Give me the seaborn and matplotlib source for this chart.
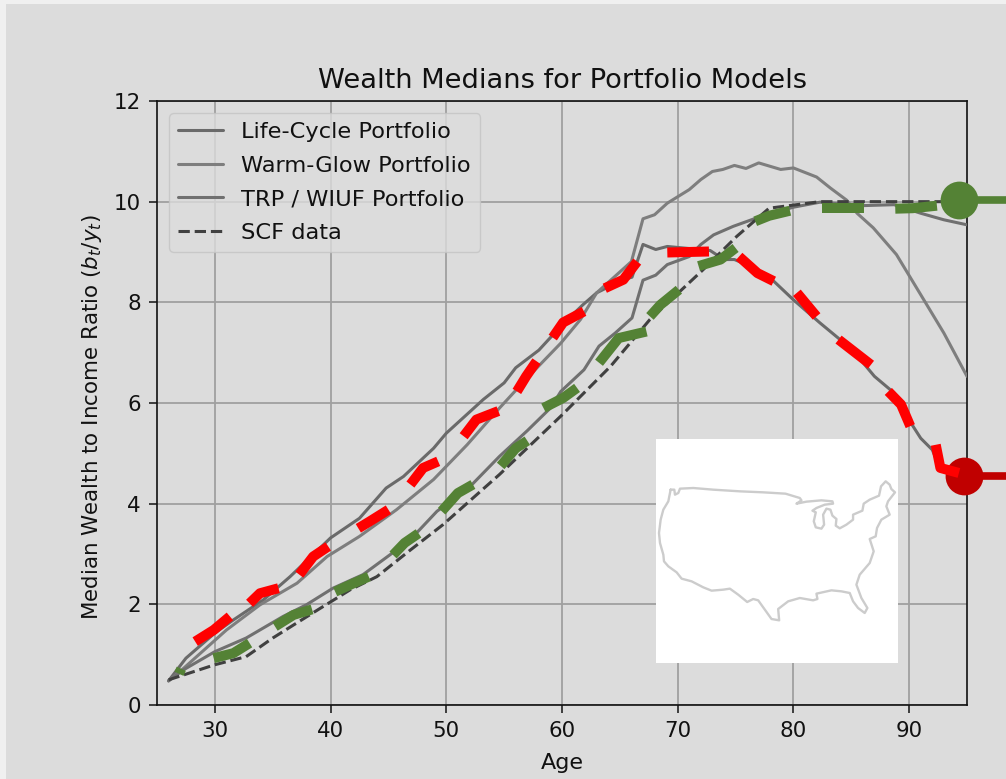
import matplotlib
matplotlib.use("Agg")
import matplotlib.pyplot as plt
import seaborn as sns

# solid / dashed curves
lc_age = [26, 27.5, 30, 31.6, 34.2, 36.5, 40, 42.5, 44.8, 46.3, 48.9, 50, 53.2, 55, 56, 58, 60, 61.8, 63, 65.3, 66.05, 67, 68.1, 69.1, 72.8, 74, 74.9, 76.5, 78.3, 80, 82.3, 84.4, 85.8, 87, 88.7, 89.8, 91, 92, 92.6, 93.4, 95]
lc_val = [0.48, 0.93, 1.43, 1.69, 2.09, 2.55, 3.32, 3.71, 4.31, 4.54, 5.1, 5.4, 6.07, 6.4, 6.7, 7.05, 7.55, 7.95, 8.19, 8.45, 8.5, 9.15, 9.05, 9.11, 9.03, 8.85, 8.85, 8.7, 8.42, 8.05, 7.59, 7.19, 6.86, 6.53, 6.2, 5.73, 5.3, 5.07, 4.74, 4.64, 4.5]

wg_age = [26, 27.3, 31, 33.9, 37.1, 39.7, 42.5, 45.7, 48.9, 51.8, 54.6, 57, 59.9, 61.6, 63, 66, 67, 68, 69.1, 71, 72, 73, 73.9, 74.9, 75.9, 77, 78.9, 80, 82, 83.2, 84.6, 85.5, 86.9, 88.9, 90.9, 93, 95]
wg_val = [0.48, 0.73, 1.49, 1.99, 2.42, 2.95, 3.35, 3.88, 4.48, 5.17, 5.9, 6.5, 7.19, 7.66, 8.19, 8.81, 9.66, 9.74, 9.97, 10.24, 10.44, 10.6, 10.64, 10.72, 10.66, 10.77, 10.64, 10.67, 10.49, 10.27, 10.03, 9.77, 9.48, 8.95, 8.19, 7.39, 6.53]

trp_age = [26, 27.3, 30, 32.7, 35.9, 37.9, 40.2, 42.8, 45.7, 47.4, 49.2, 51.8, 54.6, 57, 59, 59.9, 61.9, 63.2, 64.6, 66.05, 67, 68.1, 69.1, 71, 72, 73.1, 74.8, 77.1, 80, 82.3, 85.8, 88.7, 91, 93, 95]
trp_val = [0.48, 0.7, 1.06, 1.33, 1.76, 1.99, 2.32, 2.59, 3.08, 3.41, 3.85, 4.28, 4.94, 5.45, 5.9, 6.23, 6.66, 7.13, 7.39, 7.69, 8.44, 8.54, 8.75, 8.91, 9.15, 9.34, 9.51, 9.7, 9.89, 9.99, 9.92, 9.94, 9.77, 9.64, 9.54]

scf_age = [26, 28, 30, 32.7, 35, 36.8, 39.1, 41.7, 44, 46.9, 49.7, 52, 54.6, 59.9, 64.2, 67.6, 72.2, 75.1, 77.9, 82.3, 92.4, 94]
scf_val = [0.5, 0.65, 0.8, 0.96, 1.33, 1.59, 1.92, 2.29, 2.55, 3.08, 3.58, 4.05, 4.58, 5.74, 6.73, 7.66, 8.65, 9.31, 9.87, 10, 10, 10]

# hand-drawn looking highlight dashes
red_dashes = [
    ([28.3, 29.9, 31.3], [1.26, 1.49, 1.76]),
    ([33, 33.9, 35.5], [2.02, 2.22, 2.32]),
    ([37.3, 38.5, 39.8], [2.59, 2.95, 3.15]),
    ([42.4, 43.4, 45], [3.51, 3.65, 3.88]),
    ([46.9, 48, 49.3], [4.38, 4.71, 4.84]),
    ([51.5, 52.6, 54.5], [5.34, 5.67, 5.84]),
    ([56.1, 56.9, 57.8], [6.23, 6.53, 6.83]),
    ([59.2, 60.1, 61.9], [7.3, 7.6, 7.82]),
    ([63.7, 65.3, 66.5], [8.28, 8.45, 8.81]),
    ([69.1, 72.7], [8.99, 9.01]),
    ([75.3, 76.9, 78.3], [8.91, 8.58, 8.42]),
    ([80.3, 82], [8.19, 7.72]),
    ([83.9, 86.7], [7.26, 6.76]),
    ([88.2, 89.3, 90.1], [6.23, 5.97, 5.54]),
    ([92.3, 92.7, 94.3], [5.17, 4.71, 4.61]),
]
green_dashes = [
    ([26.9, 27.1], [0.62, 0.72]),
    ([29.9, 31.6, 33], [0.93, 1.03, 1.23]),
    ([35.2, 36.8, 38.4], [1.56, 1.79, 1.9]),
    ([40.4, 42, 43.3], [2.25, 2.42, 2.55]),
    ([45.4, 46.4, 47.6], [2.98, 3.22, 3.41]),
    ([49.6, 51, 52.3], [3.85, 4.21, 4.38]),
    ([54.7, 56, 57], [4.75, 5.1, 5.25]),
    ([58.4, 60.1, 61.3], [5.9, 6.1, 6.3]),
    ([63.2, 64.9, 67.3], [6.8, 7.29, 7.42]),
    ([67.6, 68.5, 70.1], [7.72, 7.95, 8.25]),
    ([71.8, 73.7, 75], [8.72, 8.85, 9.08]),
    ([76.7, 77.9, 79.7], [9.61, 9.72, 9.82]),
    ([82.5, 86.1], [9.87, 9.87]),
    ([88.8, 90.3, 92.4], [9.86, 9.87, 9.92]),
]
red_end = (94.7, 4.54)
green_end = (94.3, 10.04)

# US outline in the inset, in its own pixel-like units
map_x = [92, 103, 105, 115, 120, 160, 220, 300, 370, 437, 480, 485, 470, 500, 545, 578, 580, 555, 530, 518, 528, 522, 528, 545, 553, 550, 560, 572, 578, 590, 588, 600, 620, 640, 640, 668, 672, 690, 718, 724, 738, 750, 755, 766, 745, 740, 750, 725, 712, 708, 690, 702, 690, 660, 650, 665, 683, 675, 655, 640, 630, 605, 575, 530, 533, 520, 480, 445, 415, 418, 395, 375, 355, 340, 322, 295, 270, 250, 215, 190, 155, 125, 110, 85, 72, 70, 60, 57, 62, 70, 85, 92]
map_y = [180, 180, 195, 190, 177, 175, 180, 185, 188, 192, 205, 212, 222, 216, 212, 215, 222, 225, 235, 243, 248, 275, 293, 297, 285, 255, 237, 240, 258, 268, 288, 296, 285, 270, 255, 243, 222, 210, 198, 170, 155, 165, 178, 188, 215, 230, 255, 270, 295, 320, 328, 365, 400, 435, 465, 505, 535, 550, 535, 515, 490, 485, 482, 492, 508, 512, 505, 515, 538, 572, 568, 540, 512, 508, 517, 495, 477, 480, 483, 473, 455, 447, 428, 410, 395, 375, 340, 310, 270, 240, 215, 180]

W, H = 1006, 779
BG = "#dcdcdc"

sns.set_style("white")
plt.rcParams["font.family"] = "DejaVu Sans"

fig = plt.figure(figsize=(W / 100, H / 100), dpi=100, facecolor="#f0f0f0")
fig.patches.append(plt.Rectangle((6 / W, 0), 1, 1 - 4 / H, transform=fig.transFigure, facecolor=BG, edgecolor="none", zorder=-1))
ax = fig.add_axes([157 / W, 1 - 705 / H, 810 / W, 604 / H], facecolor=BG)

sns.lineplot(x=lc_age, y=lc_val, sort=False, estimator=None, color="#6a6a6a", lw=2.2, label="Life-Cycle Portfolio", ax=ax, zorder=3)
sns.lineplot(x=wg_age, y=wg_val, sort=False, estimator=None, color="#7e7e7e", lw=2.2, label="Warm-Glow Portfolio", ax=ax, zorder=3)
sns.lineplot(x=trp_age, y=trp_val, sort=False, estimator=None, color="#707070", lw=2.2, label="TRP / WIUF Portfolio", ax=ax, zorder=3)
sns.lineplot(x=scf_age, y=scf_val, sort=False, estimator=None, color="#404040", lw=2.2, ls="--", label="SCF data", ax=ax, zorder=3)

# end markers with their tails running off the right edge
sns.lineplot(x=[red_end[0], 99], y=[red_end[1], red_end[1]], color="#c00000", lw=5.5, estimator=None, sort=False, clip_on=False, legend=False, ax=ax, zorder=4)
sns.lineplot(x=[green_end[0], 99], y=[green_end[1], green_end[1]], color="#548235", lw=5.5, estimator=None, sort=False, clip_on=False, legend=False, ax=ax, zorder=4)
sns.scatterplot(x=[red_end[0]], y=[red_end[1]], color="#c00000", s=740, linewidth=0, clip_on=False, legend=False, ax=ax, zorder=4)
sns.scatterplot(x=[green_end[0]], y=[green_end[1]], color="#548235", s=740, linewidth=0, clip_on=False, legend=False, ax=ax, zorder=4)

for xs, ys in red_dashes:
    sns.lineplot(x=xs, y=ys, color="#ff0000", lw=7.2, estimator=None, sort=False, legend=False, solid_capstyle="butt", clip_on=False, ax=ax, zorder=5)
for xs, ys in green_dashes:
    sns.lineplot(x=xs, y=ys, color="#548235", lw=7.2, estimator=None, sort=False, legend=False, solid_capstyle="butt", clip_on=False, ax=ax, zorder=5)

ax.set_xlim(25, 95)
ax.set_ylim(0, 12)
ax.set_xticks(range(30, 91, 10))
ax.set_yticks(range(0, 13, 2))
ax.grid(True, color="#a0a0a0", lw=1.3)
ax.set_axisbelow(True)
for s in ax.spines.values():
    s.set_visible(True)
    s.set_color("#111111")
    s.set_linewidth(1.2)
ax.tick_params(axis="both", length=5.5, width=1.1, color="#111111", labelcolor="#111111", labelsize=15.4, left=True, bottom=True, pad=6)
ax.set_title("Wealth Medians for Portfolio Models", fontsize=19.6, pad=9, color="#111111")
ax.set_xlabel("Age", fontsize=16, labelpad=8.5, color="#111111")
ax.set_ylabel("Median Wealth to Income Ratio ($b_t/y_t$)", fontsize=15.4, color="#111111")
ax.yaxis.set_label_coords(-0.0655, 0.477)

leg = ax.legend(loc="upper left", fontsize=16.2, frameon=True, facecolor=BG, edgecolor="#c4c4c4", framealpha=0.8, borderaxespad=0.55, labelspacing=0.6)
for t in leg.get_texts():
    t.set_color("#111111")

# inset with the map
inset = fig.add_axes([656 / W, 1 - 663 / H, 242 / W, 224 / H], facecolor="white", zorder=6)
sns.lineplot(x=map_x, y=map_y, sort=False, estimator=None, color="#cccccc", lw=1.7, solid_joinstyle="round", ax=inset)
inset.set_xlim(48, 775)
inset.set_ylim(700, 28)
inset.axis("off")
inset.add_patch(plt.Rectangle((0, 0), 1, 1, transform=inset.transAxes, facecolor="white", edgecolor="none", zorder=0))

fig.savefig("out.png", dpi=100, facecolor=fig.get_facecolor())
